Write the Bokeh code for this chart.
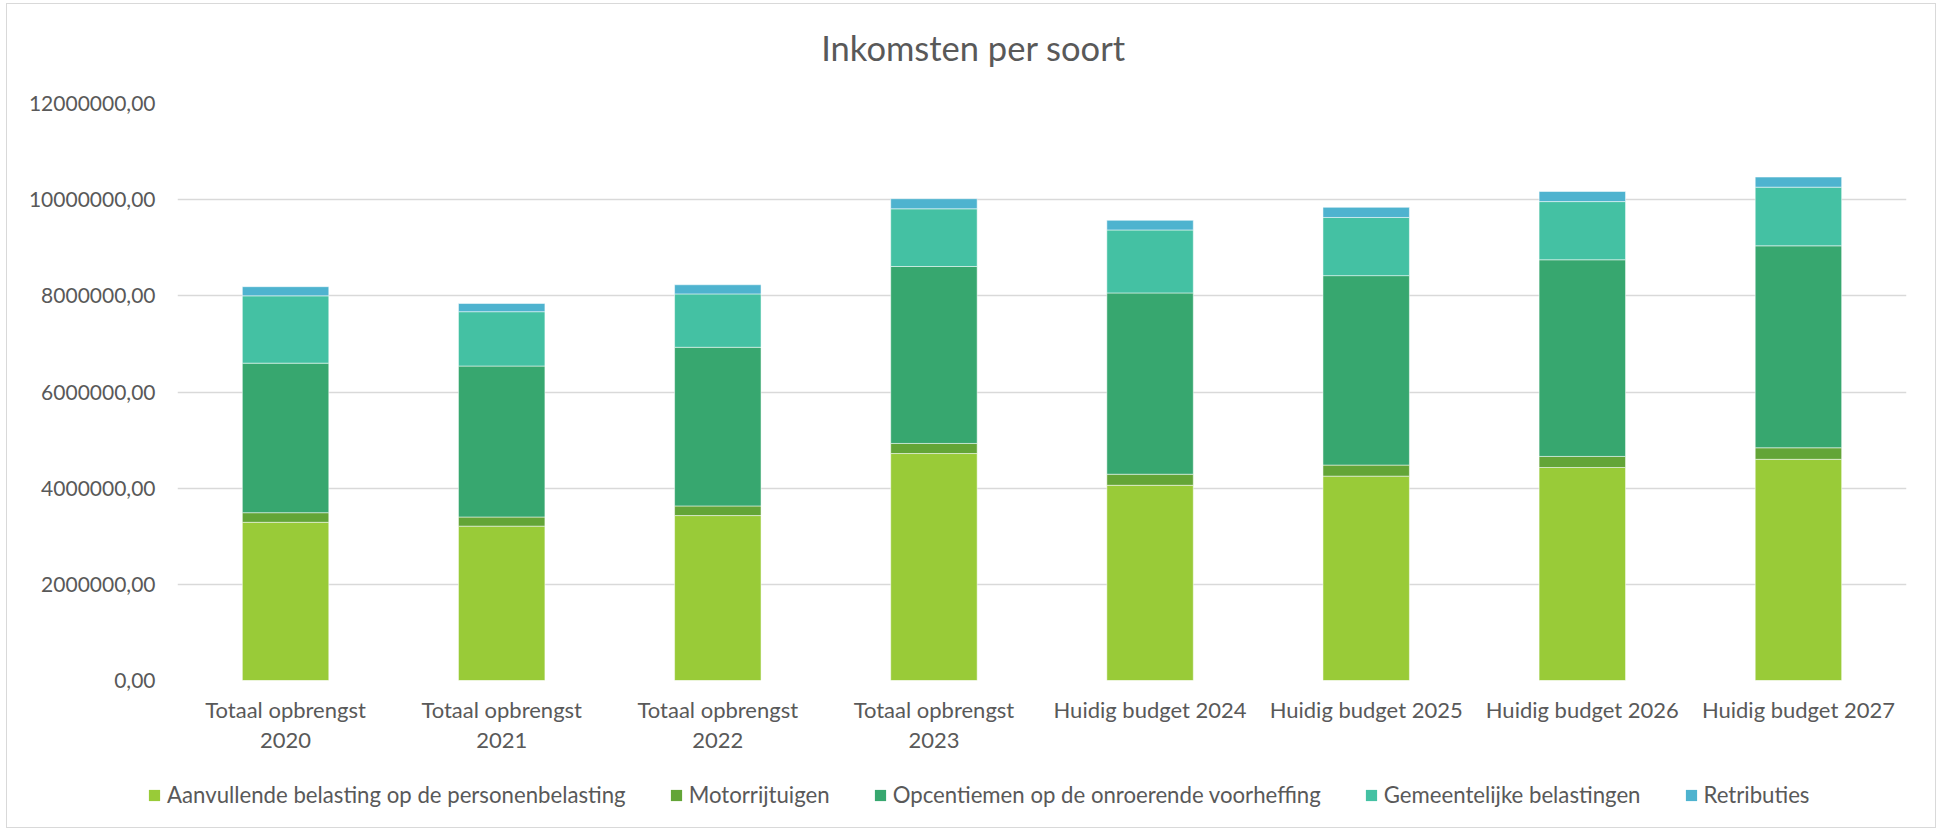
from bokeh.plotting import figure
from bokeh.layouts import column
from bokeh.models import (FactorRange, Range1d, FixedTicker, Legend, LegendItem,
                          ColumnDataSource, Label)
from bokeh.embed import file_html
from bokeh.resources import INLINE

categories = ["Totaal opbrengst\n2020", "Totaal opbrengst\n2021", "Totaal opbrengst\n2022",
              "Totaal opbrengst\n2023", "Huidig budget 2024", "Huidig budget 2025",
              "Huidig budget 2026", "Huidig budget 2027"]

series_names = ["Aanvullende belasting op de personenbelasting", "Motorrijtuigen",
                "Opcentiemen op de onroerende voorheffing", "Gemeentelijke belastingen",
                "Retributies"]

aanvullende = [3290000, 3210000, 3430000, 4720000, 4060000, 4250000, 4430000, 4600000]
motorrijtuigen = [200000, 190000, 200000, 210000, 230000, 230000, 230000, 240000]
opcentiemen = [3110000, 3140000, 3300000, 3680000, 3770000, 3940000, 4090000, 4200000]
gemeentelijke = [1400000, 1130000, 1110000, 1200000, 1310000, 1210000, 1210000, 1220000]
retributies = [190000, 170000, 190000, 210000, 200000, 210000, 210000, 210000]

y_ticks = [0, 2000000, 4000000, 6000000, 8000000, 10000000, 12000000]
y_tick_labels = ["0,00", "2000000,00", "4000000,00", "6000000,00", "8000000,00",
                 "10000000,00", "12000000,00"]

title_text = "Inkomsten per soort"

colors = ["#99CB38", "#63A537", "#37A76F", "#44C1A3", "#4EB3CF"]
FONT = "Lato"
TXT = "#595959"
W = 1928

source = ColumnDataSource(dict(cat=categories, A=aanvullende, M=motorrijtuigen,
                               O=opcentiemen, G=gemeentelijke, R=retributies))
stackers = ["A", "M", "O", "G", "R"]


def strip(height, x_range, y_range):
    f = figure(width=W, height=height, x_range=x_range, y_range=y_range,
               output_backend="svg", toolbar_location=None, min_border=0,
               x_axis_type=None, y_axis_type=None)
    f.frame_align = False
    f.outline_line_color = None
    f.grid.visible = False
    f.background_fill_color = "white"
    f.border_fill_color = "white"
    return f


# ---- title strip ----
tf = strip(70, Range1d(0, 1), Range1d(0, 1))
tf.add_layout(Label(x=966, y=27, x_units="screen", y_units="screen", text=title_text,
                    text_align="center", text_baseline="middle", text_font=FONT,
                    text_font_size="34.5px", text_color=TXT))

# ---- main chart ----
p = figure(x_range=FactorRange(*categories), y_range=Range1d(0, 12000000),
           width=W, height=696, output_backend="svg", toolbar_location=None,
           min_border_left=170, min_border_right=29, min_border_top=29,
           min_border_bottom=90)
p.frame_align = False
p.outline_line_color = None
p.background_fill_color = "white"
p.border_fill_color = "white"

p.vbar_stack(stackers, x="cat", width=0.4, color=colors, source=source,
             line_color="white", line_width=1, line_alpha=0.5)

p.xgrid.grid_line_color = None
p.ygrid.ticker = FixedTicker(ticks=y_ticks)
p.ygrid.grid_line_color = "#D9D9D9"
p.ygrid.grid_line_width = 1.3

p.yaxis.ticker = FixedTicker(ticks=y_ticks)
p.yaxis.major_label_overrides = dict(zip(y_ticks, y_tick_labels))
for ax in (p.xaxis, p.yaxis):
    ax.axis_line_color = None
    ax.major_tick_line_color = None
    ax.minor_tick_line_color = None
    ax.major_label_text_font = FONT
    ax.major_label_text_color = TXT
p.yaxis.major_label_text_font_size = "21px"
p.xaxis.major_label_text_font_size = "22px"
p.yaxis.major_label_standoff = 16
p.xaxis.major_label_standoff = 9
p.xaxis.major_label_text_line_height = 1.12

# ---- legend strip ----
lf = strip(57, FactorRange(*categories), Range1d(0, 1))
legend_glyphs = lf.vbar_stack(stackers, x="cat", width=0.4, color=colors, source=source,
                              line_color=None)
for r in legend_glyphs:
    r.visible = False
items = [LegendItem(label=n, renderers=[r]) for n, r in zip(series_names, legend_glyphs)]
legend = Legend(items=items, orientation="horizontal", location=(140, 19),
                glyph_width=14, glyph_height=14, label_standoff=6, spacing=43,
                padding=0, margin=0, border_line_color=None, background_fill_alpha=0,
                label_text_font=FONT, label_text_font_size="22.2px", label_text_color=TXT)
lf.add_layout(legend)

layout = column(tf, p, lf, spacing=0)
layout.styles = {"outline": "1px solid #D9D9D9", "margin-left": "7px", "margin-top": "4px"}

open("out.html", "w").write(file_html(layout, INLINE))
